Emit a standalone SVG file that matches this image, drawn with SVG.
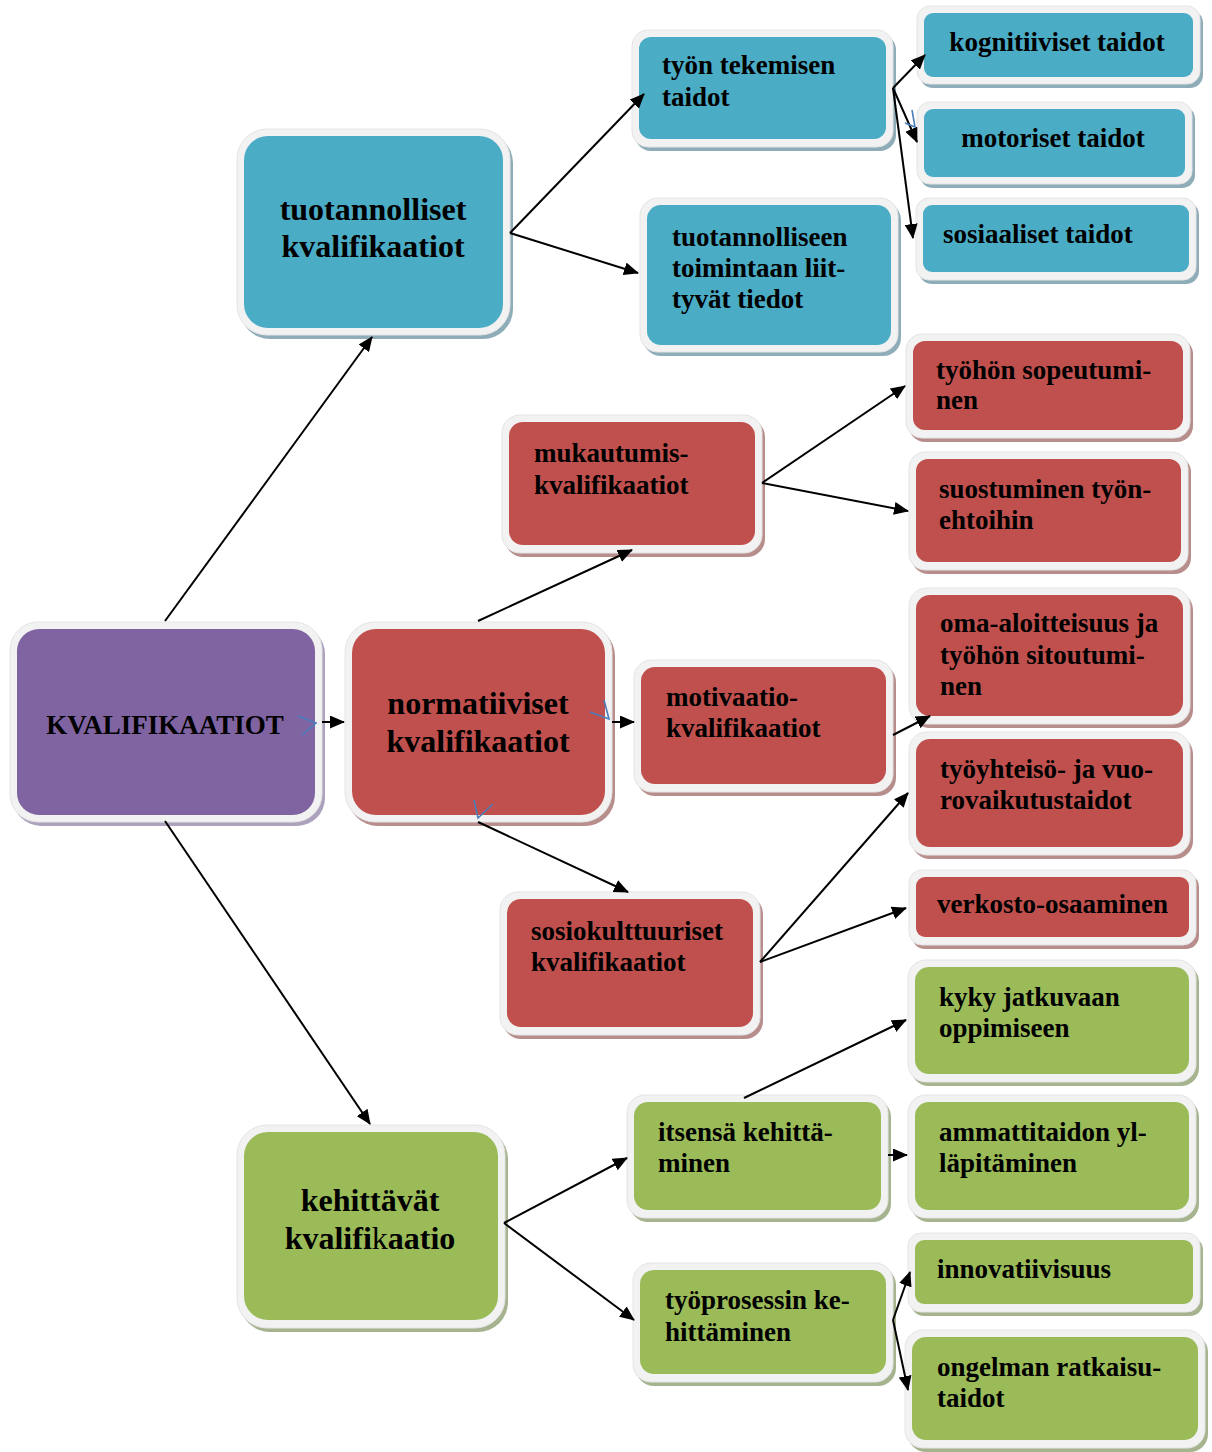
<svg xmlns="http://www.w3.org/2000/svg" width="1212" height="1452" viewBox="0 0 1212 1452">
<defs>
<style>
.fr{fill:#f2f2f2;stroke:#e4e4e4;stroke-width:1}
.b{fill:#4bacc6}.r{fill:#c0504d}.g{fill:#9bbb59}.p{fill:#8064a2}
.sb{fill:#8fadb8}.sr{fill:#b88e8d}.sg{fill:#a5b38e}.sp{fill:#aca2bd}
.t{font-family:"Liberation Serif","Times New Roman",serif;font-weight:bold;font-size:27px;fill:#000}
.tl{font-size:32px}
.c{stroke:#000;stroke-width:2;fill:none;marker-end:url(#ah)}
.ch{stroke:#4a7ebb;stroke-width:1.6;fill:none}
</style>
<marker id="ah" viewBox="0 0 15 13" refX="14" refY="6.5" markerWidth="15" markerHeight="13" orient="auto" markerUnits="userSpaceOnUse"><path d="M0,0 L15,6.5 L0,13 z" fill="#000"/></marker>
</defs>
<rect width="1212" height="1452" fill="#fff"/>

<g id="n-kval"><rect class="sp" x="13" y="626" width="312" height="200" rx="28"/><rect class="fr" x="10" y="622" width="312" height="200" rx="28"/><rect class="p" x="17" y="629" width="298" height="186" rx="22"/><text class="t" x="165" y="734" text-anchor="middle">KVALIFIKAATIOT</text></g>

<g id="n-tuot"><rect class="sb" x="240" y="133" width="273" height="206" rx="30"/><rect class="fr" x="237" y="129" width="273" height="206" rx="30"/><rect class="b" x="244" y="136" width="259" height="192" rx="24"/><text class="t tl" x="373" y="220" text-anchor="middle">tuotannolliset</text><text class="t tl" x="373" y="257" text-anchor="middle">kvalifikaatiot</text></g>

<g id="n-tyon"><rect class="sb" x="635" y="34" width="261" height="117" rx="16"/><rect class="fr" x="632" y="30" width="261" height="117" rx="16"/><rect class="b" x="639" y="37" width="247" height="102" rx="12"/><text class="t" x="662" y="74">työn tekemisen</text><text class="t" x="662" y="106">taidot</text></g>

<g id="n-tuotto"><rect class="sb" x="643" y="202" width="258" height="154" rx="18"/><rect class="fr" x="640" y="198" width="258" height="154" rx="18"/><rect class="b" x="647" y="205" width="244" height="140" rx="14"/><text class="t" x="672" y="246">tuotannolliseen</text><text class="t" x="672" y="277">toimintaan liit-</text><text class="t" x="672" y="308">tyvät tiedot</text></g>

<g id="n-kogn"><rect class="sb" x="920" y="10" width="283" height="78" rx="13"/><rect class="fr" x="917" y="6" width="283" height="78" rx="13"/><rect class="b" x="924" y="13" width="269" height="64" rx="9"/><text class="t" x="1057" y="51" text-anchor="middle">kognitiiviset taidot</text></g>

<g id="n-moto"><rect class="sb" x="920" y="106" width="275" height="82" rx="13"/><rect class="fr" x="917" y="102" width="275" height="82" rx="13"/><rect class="b" x="924" y="109" width="261" height="68" rx="9"/><text class="t" x="1053" y="147" text-anchor="middle">motoriset taidot</text></g>

<g id="n-sosi"><rect class="sb" x="919" y="202" width="280" height="82" rx="13"/><rect class="fr" x="916" y="198" width="280" height="82" rx="13"/><rect class="b" x="923" y="205" width="266" height="67" rx="9"/><text class="t" x="943" y="243">sosiaaliset taidot</text></g>

<g id="n-muk"><rect class="sr" x="505" y="419" width="260" height="138" rx="18"/><rect class="fr" x="502" y="415" width="260" height="138" rx="18"/><rect class="r" x="509" y="422" width="246" height="123" rx="14"/><text class="t" x="534" y="462">mukautumis-</text><text class="t" x="534" y="494">kvalifikaatiot</text></g>

<g id="n-sope"><rect class="sr" x="909" y="338" width="284" height="104" rx="16"/><rect class="fr" x="906" y="334" width="284" height="104" rx="16"/><rect class="r" x="913" y="341" width="270" height="89" rx="12"/><text class="t" x="936" y="379">työhön sopeutumi-</text><text class="t" x="936" y="409">nen</text></g>

<g id="n-suos"><rect class="sr" x="912" y="456" width="279" height="118" rx="16"/><rect class="fr" x="909" y="452" width="279" height="118" rx="16"/><rect class="r" x="916" y="459" width="265" height="103" rx="12"/><text class="t" x="939" y="498">suostuminen työn-</text><text class="t" x="939" y="529">ehtoihin</text></g>

<g id="n-norm"><rect class="sr" x="348" y="626" width="267" height="200" rx="30"/><rect class="fr" x="345" y="622" width="267" height="200" rx="30"/><rect class="r" x="352" y="629" width="253" height="186" rx="24"/><text class="t tl" x="478" y="714" text-anchor="middle">normatiiviset</text><text class="t tl" x="478" y="752" text-anchor="middle">kvalifikaatiot</text></g>

<g id="n-moti"><rect class="sr" x="637" y="664" width="259" height="132" rx="18"/><rect class="fr" x="634" y="660" width="259" height="132" rx="18"/><rect class="r" x="641" y="667" width="245" height="117" rx="14"/><text class="t" x="666" y="706">motivaatio-</text><text class="t" x="666" y="737">kvalifikaatiot</text></g>

<g id="n-oma"><rect class="sr" x="912" y="592" width="281" height="136" rx="18"/><rect class="fr" x="909" y="588" width="281" height="136" rx="18"/><rect class="r" x="916" y="595" width="267" height="121" rx="14"/><text class="t" x="940" y="632">oma-aloitteisuus ja</text><text class="t" x="940" y="664">työhön sitoutumi-</text><text class="t" x="940" y="695">nen</text></g>

<g id="n-yht"><rect class="sr" x="912" y="736" width="281" height="123" rx="18"/><rect class="fr" x="909" y="732" width="281" height="123" rx="18"/><rect class="r" x="916" y="739" width="267" height="108" rx="14"/><text class="t" x="940" y="778">työyhteisö- ja vuo-</text><text class="t" x="940" y="809">rovaikutustaidot</text></g>

<g id="n-verk"><rect class="sr" x="912" y="874" width="287" height="75" rx="13"/><rect class="fr" x="909" y="870" width="287" height="75" rx="13"/><rect class="r" x="916" y="877" width="273" height="60" rx="9"/><text class="t" x="937" y="913">verkosto-osaaminen</text></g>

<g id="n-soku"><rect class="sr" x="503" y="896" width="260" height="143" rx="18"/><rect class="fr" x="500" y="892" width="260" height="143" rx="18"/><rect class="r" x="507" y="899" width="246" height="128" rx="14"/><text class="t" x="531" y="940">sosiokulttuuriset</text><text class="t" x="531" y="971">kvalifikaatiot</text></g>

<g id="n-kyky"><rect class="sg" x="911" y="964" width="288" height="122" rx="18"/><rect class="fr" x="908" y="960" width="288" height="122" rx="18"/><rect class="g" x="915" y="967" width="274" height="107" rx="14"/><text class="t" x="939" y="1006">kyky jatkuvaan</text><text class="t" x="939" y="1037">oppimiseen</text></g>

<g id="n-itse"><rect class="sg" x="630" y="1099" width="261" height="123" rx="18"/><rect class="fr" x="627" y="1095" width="261" height="123" rx="18"/><rect class="g" x="634" y="1102" width="247" height="108" rx="14"/><text class="t" x="658" y="1141">itsensä kehittä-</text><text class="t" x="658" y="1172">minen</text></g>

<g id="n-amma"><rect class="sg" x="911" y="1099" width="288" height="123" rx="18"/><rect class="fr" x="908" y="1095" width="288" height="123" rx="18"/><rect class="g" x="915" y="1102" width="274" height="108" rx="14"/><text class="t" x="939" y="1141">ammattitaidon yl-</text><text class="t" x="939" y="1172">läpitäminen</text></g>

<g id="n-kehi"><rect class="sg" x="240" y="1129" width="268" height="203" rx="30"/><rect class="fr" x="237" y="1125" width="268" height="203" rx="30"/><rect class="g" x="244" y="1132" width="254" height="188" rx="24"/><text class="t tl" x="370" y="1211" text-anchor="middle">kehittävät</text><text class="t tl" x="370" y="1249" text-anchor="middle">kvalifi<tspan font-weight="normal">k</tspan>aatio</text></g>

<g id="n-pros"><rect class="sg" x="636" y="1267" width="260" height="119" rx="18"/><rect class="fr" x="633" y="1263" width="260" height="119" rx="18"/><rect class="g" x="640" y="1270" width="246" height="104" rx="14"/><text class="t" x="665" y="1309">työprosessin ke-</text><text class="t" x="665" y="1341">hittäminen</text></g>

<g id="n-inno"><rect class="sg" x="911" y="1237" width="292" height="79" rx="13"/><rect class="fr" x="908" y="1233" width="292" height="79" rx="13"/><rect class="g" x="915" y="1240" width="278" height="64" rx="9"/><text class="t" x="937" y="1278">innovatiivisuus</text></g>

<g id="n-onge"><rect class="sg" x="908" y="1334" width="300" height="118" rx="18"/><rect class="fr" x="905" y="1330" width="300" height="118" rx="18"/><rect class="g" x="912" y="1337" width="286" height="103" rx="14"/><text class="t" x="937" y="1376">ongelman ratkaisu-</text><text class="t" x="937" y="1407">taidot</text></g>

<g id="connectors">
<line class="c" x1="165" y1="621" x2="372" y2="337"/>
<line class="c" x1="165" y1="821" x2="370" y2="1124"/>
<line class="c" x1="322" y1="722" x2="344" y2="722"/>
<line class="c" x1="510" y1="233" x2="644" y2="94"/>
<line class="c" x1="510" y1="233" x2="638" y2="273"/>
<line class="c" x1="893" y1="88" x2="925" y2="55"/>
<line class="c" x1="893" y1="88" x2="917" y2="142"/>
<line class="c" x1="893" y1="88" x2="913" y2="238"/>
<line class="c" x1="478" y1="621" x2="632" y2="550"/>
<line class="c" x1="762" y1="483" x2="905" y2="386"/>
<line class="c" x1="762" y1="483" x2="908" y2="511"/>
<line class="c" x1="612" y1="722" x2="634" y2="722"/>
<line class="c" x1="893" y1="735" x2="930" y2="716"/>
<line class="c" x1="478" y1="822" x2="628" y2="892"/>
<line class="c" x1="760" y1="962" x2="908" y2="793"/>
<line class="c" x1="760" y1="962" x2="906" y2="908"/>
<line class="c" x1="504" y1="1223" x2="627" y2="1158"/>
<line class="c" x1="504" y1="1223" x2="634" y2="1320"/>
<line class="c" x1="744" y1="1098" x2="906" y2="1020"/>
<line class="c" x1="888" y1="1155" x2="907" y2="1155"/>
<line class="c" x1="893" y1="1320" x2="910" y2="1272"/>
<line class="c" x1="893" y1="1320" x2="908" y2="1390"/>
<polyline class="ch" points="298,716 316,723 302,735"/>
<polyline class="ch" points="590,712 609,719 604,700"/>
<polyline class="ch" points="474,800 478,818 493,804"/>
<polyline class="ch" points="912,110 915,127 905,123"/>
</g>
</svg>
